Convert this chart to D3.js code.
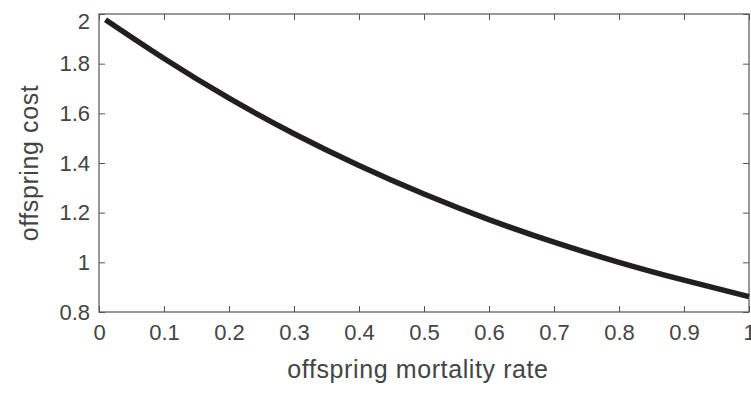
<!DOCTYPE html>
<html>
<head>
<meta charset="utf-8">
<script src="https://cdn.jsdelivr.net/npm/d3@7"></script>
<style>
  body { margin: 0; background: #fff; }
  text { font-family: "Liberation Sans", Arial, sans-serif; }
</style>
</head>
<body>
<script>
var margin = {top: 14, right: 2, bottom: 82, left: 99};

var width = 751 - margin.left - margin.right,
    height = 394 - margin.top - margin.bottom;

// curve
var mortality = [0.01, 0.1, 0.2, 0.3, 0.4, 0.5, 0.6, 0.7, 0.8, 0.9, 1.0];
var cost = [1.977, 1.821, 1.661, 1.518, 1.390, 1.275, 1.172, 1.081, 1.000, 0.928, 0.862];

var xTicks = [0, 0.1, 0.2, 0.3, 0.4, 0.5, 0.6, 0.7, 0.8, 0.9, 1];
var yTicks = [0.8, 1, 1.2, 1.4, 1.6, 1.8, 2];

var svg = d3.select("body").append("svg")
    .attr("width", width + margin.left + margin.right)
    .attr("height", height + margin.top + margin.bottom);

var g = svg.append("g")
    .attr("transform", "translate(" + margin.left + "," + margin.top + ")");

var x = d3.scaleLinear().domain([0, 1]).range([0, width]);
var y = d3.scaleLinear().domain([0.8, 2]).range([height, 0]);

var axisColor = "#555";
var textColor = "#444";
var fmt = function (d) { return d3.format("")(d); };

function style(sel, showLabels) {
    sel.select(".domain").remove();
    sel.selectAll(".tick line").attr("stroke", axisColor);
    sel.selectAll(".tick text")
        .attr("fill", textColor)
        .style("font-size", "22px")
        .style("display", showLabels ? null : "none");
}

g.append("g")
    .attr("transform", "translate(0," + height + ")")
    .call(d3.axisBottom(x).tickValues(xTicks).tickFormat(fmt).tickSizeInner(-6).tickSizeOuter(0).tickPadding(12))
    .call(function (s) { style(s, true); });

g.append("g")
    .call(d3.axisTop(x).tickValues(xTicks).tickSizeInner(-6).tickSizeOuter(0))
    .call(function (s) { style(s, false); });

var yAxis = g.append("g")
    .call(d3.axisLeft(y).tickValues(yTicks).tickFormat(fmt).tickSizeInner(-6).tickSizeOuter(0).tickPadding(9))
    .call(function (s) { style(s, true); });

// top label sits a little lower, as in the original
yAxis.selectAll(".tick text")
    .filter(function (d) { return d === 2; })
    .attr("dy", "0.65em");

g.append("g")
    .attr("transform", "translate(" + width + ",0)")
    .call(d3.axisRight(y).tickValues(yTicks).tickSizeInner(-6).tickSizeOuter(0))
    .call(function (s) { style(s, false); });

g.append("rect")
    .attr("width", width)
    .attr("height", height)
    .attr("fill", "none")
    .attr("stroke", axisColor)
    .attr("stroke-width", 1.2);

var line = d3.line()
    .x(function (d, i) { return x(mortality[i]); })
    .y(function (d) { return y(d); })
    .curve(d3.curveNatural);

g.append("path")
    .datum(cost)
    .attr("d", line)
    .attr("fill", "none")
    .attr("stroke", "#231f20")
    .attr("stroke-width", 5.5);

svg.append("text")
    .attr("x", 418)
    .attr("y", 378)
    .attr("text-anchor", "middle")
    .attr("fill", textColor)
    .style("font-size", "25px")
    .style("letter-spacing", "0.6px")
    .text("offspring mortality rate");

svg.append("text")
    .attr("transform", "translate(38," + (margin.top + height / 2) + ") rotate(-90)")
    .attr("text-anchor", "middle")
    .attr("fill", textColor)
    .style("font-size", "25px")
    .style("letter-spacing", "0.6px")
    .text("offspring cost");
</script>
</body>
</html>
